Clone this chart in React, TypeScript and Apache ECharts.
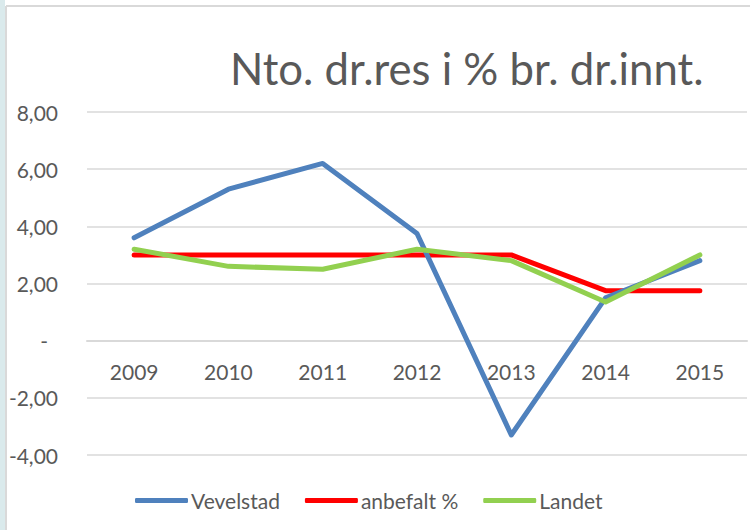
import React, { useEffect, useRef } from "react";
import * as echarts from "echarts";

const years = ["2009", "2010", "2011", "2012", "2013", "2014", "2015"];
const vevelstad = [3.6, 5.3, 6.2, 3.75, -3.3, 1.5, 2.8];
const anbefalt = [3.0, 3.0, 3.0, 3.0, 3.0, 1.75, 1.75];
const landet = [3.2, 2.6, 2.5, 3.2, 2.8, 1.35, 3.0];
const seriesNames = ["Vevelstad", "anbefalt %", "Landet"];
const seriesColors = ["#4F81BD", "#FF0000", "#92D050"];
const yMin = -4;
const yMax = 8;
const yStep = 2;

const textColor = "#595959";
const gridColor = "#D9D9D9";
const fontFamily = "Lato, 'Open Sans', sans-serif";

const gridTop = 112;
const gridBottom = 75;
const chartHeight = 530;

function formatValue(v: number): string {
  if (v === 0) return "{z|-}";
  return v.toFixed(2).replace(".", ",");
}

export default function App() {
  const ref = useRef<HTMLDivElement>(null);

  useEffect(() => {
    if (!ref.current) return;
    const chart = echarts.init(ref.current, undefined, { renderer: "svg" });
    const values = [vevelstad, anbefalt, landet];
    // the category axis sits on the zero line, inside the plot
    const plotHeight = chartHeight - gridTop - gridBottom;
    const zeroOffset = -(plotHeight * (0 - yMin)) / (yMax - yMin);
    chart.setOption({
      animation: false,
      backgroundColor: "#FFFFFF",
      textStyle: { fontFamily },
      title: {
        text: "Nto. dr.res i % br. dr.innt.",
        left: 230,
        top: 46,
        padding: 0,
        textStyle: {
          fontFamily,
          fontSize: 43.7,
          fontWeight: "normal",
          color: textColor,
        },
      },
      graphic: [
        { type: "rect", shape: { x: 0, y: 0, width: 5, height: 530 }, style: { fill: "#DAEAEC" }, silent: true },
        { type: "line", shape: { x1: 6, y1: 6, x2: 6, y2: 530 }, style: { stroke: gridColor, lineWidth: 2 }, silent: true },
        { type: "line", shape: { x1: 6, y1: 6, x2: 750, y2: 6 }, style: { stroke: gridColor, lineWidth: 2 }, silent: true },
      ],
      legend: {
        left: 130,
        top: 485,
        padding: 5,
        icon: "roundRect",
        itemWidth: 53,
        itemHeight: 5,
        itemGap: 25,
        textStyle: { fontFamily, fontSize: 21, color: textColor, padding: [0, 0, 0, -2] },
        data: seriesNames,
      },
      grid: { left: 87, right: 3, top: gridTop, bottom: gridBottom },
      xAxis: {
        type: "category",
        data: years,
        boundaryGap: true,
        offset: zeroOffset,
        axisLine: { onZero: false, lineStyle: { color: gridColor, width: 2 } },
        axisTick: { show: false },
        axisLabel: { color: textColor, fontSize: 21, fontFamily, margin: 20 },
      },
      yAxis: {
        type: "value",
        min: yMin,
        max: yMax,
        interval: yStep,
        axisLine: { show: false },
        axisTick: { show: false },
        splitLine: { lineStyle: { color: gridColor, width: 1.5 } },
        axisLabel: {
          color: textColor,
          fontSize: 21,
          fontFamily,
          margin: 29,
          formatter: formatValue,
          rich: { z: { color: textColor, fontSize: 21, fontFamily, padding: [0, 10, 0, 0] } },
        },
      },
      series: values.map((data, i) => ({
        name: seriesNames[i],
        type: "line",
        data,
        showSymbol: false,
        symbol: "none",
        color: seriesColors[i],
        lineStyle: { color: seriesColors[i], width: 5, cap: "round", join: "round" },
        z: i === 1 ? 2 : i === 0 ? 3 : 4,
      })),
    });
    return () => chart.dispose();
  }, []);

  return (
    <div
      ref={ref}
      style={{ position: "absolute", left: 0, top: 0, width: 750, height: 530 }}
    />
  );
}
